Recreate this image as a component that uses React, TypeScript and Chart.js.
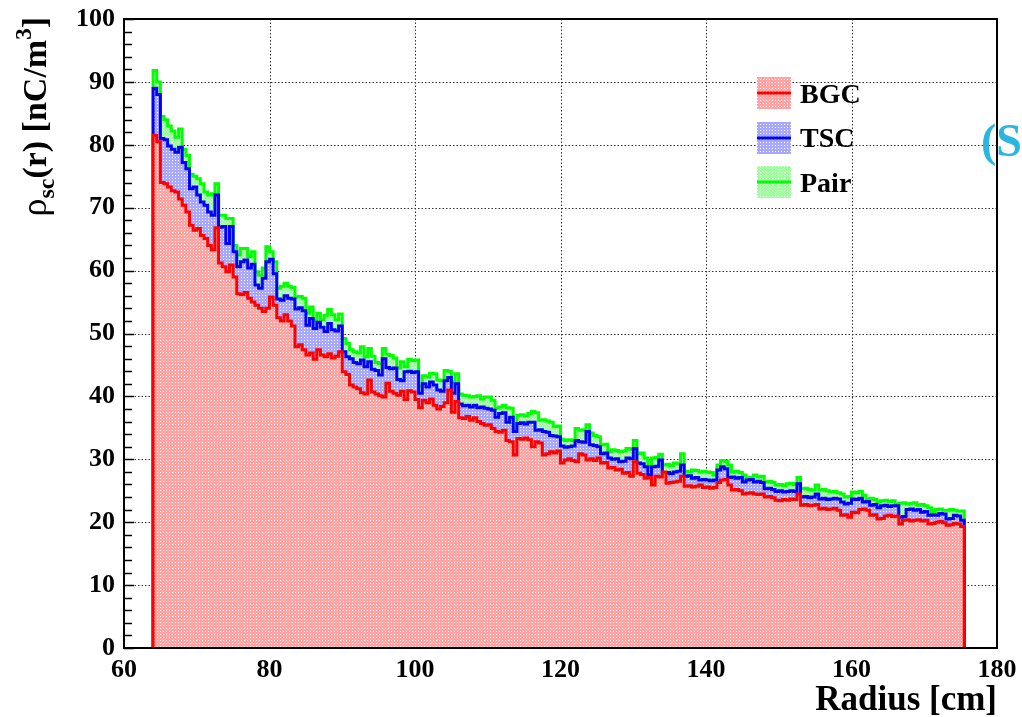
import { useEffect, useRef } from "react";
import { Chart, registerables } from "chart.js";

Chart.register(...registerables);

// Histogram binning (cm)
const binStart = 64;
const binWidth = 0.5;

// Space-charge density per radial bin [nC/m^3]
const bgcValues = [
  81.5, 80.5, 74.0, 73.8, 73.3, 72.7, 72.5, 71.4, 70.4, 69.3,
  67.2, 66.4, 66.7, 65.6, 65.1, 64.0, 63.3, 66.8, 61.2, 60.6,
  59.8, 60.9, 59.0, 56.3, 56.2, 56.5, 55.6, 55.0, 54.5, 54.0,
  53.5, 54.0, 55.8, 54.5, 52.5, 52.0, 53.0, 52.0, 51.2, 47.9,
  48.2, 47.4, 46.6, 46.9, 45.9, 47.4, 46.6, 46.3, 46.8, 46.1,
  46.4, 47.1, 43.9, 43.5, 41.8, 41.5, 41.2, 40.6, 40.4, 42.6,
  40.7, 40.4, 40.1, 39.9, 42.1, 40.8, 40.5, 40.2, 40.8, 39.5,
  40.9, 40.7, 39.5, 38.2, 39.4, 39.0, 39.6, 38.6, 38.0, 38.4,
  39.0, 41.0, 37.5, 39.2, 36.6, 36.5, 36.8, 36.2, 36.6, 36.0,
  35.7, 35.4, 35.5, 34.9, 34.4, 34.3, 34.6, 33.0, 32.8, 30.7,
  33.3, 33.2, 33.4, 33.1, 32.0, 32.8, 32.6, 30.7, 30.9, 31.2,
  31.0, 31.3, 29.4, 29.9, 30.1, 29.8, 29.6, 30.9, 30.7, 29.9,
  30.1, 29.8, 30.2, 29.4, 29.5, 28.6, 28.7, 28.3, 28.4, 27.8,
  27.9, 27.3, 29.6, 27.8, 27.6, 27.0, 27.1, 25.9, 27.3, 27.2,
  28.0, 26.2, 26.3, 26.4, 26.5, 27.3, 25.7, 25.8, 25.6, 25.7,
  25.9, 25.5, 25.6, 25.4, 25.5, 26.3, 26.7, 26.8, 25.9, 25.1,
  25.2, 25.0, 24.5, 24.6, 24.7, 24.5, 24.4, 24.5, 24.0, 24.1,
  23.9, 23.5, 23.4, 23.6, 23.5, 23.7, 23.6, 24.5, 22.7, 22.8,
  22.6, 22.7, 22.8, 22.1, 22.2, 22.0, 22.1, 22.2, 21.9, 21.1,
  21.2, 20.8, 21.6, 21.5, 22.0, 22.1, 21.9, 21.1, 21.2, 20.5,
  20.6, 21.0, 21.1, 20.9, 21.0, 19.7, 20.3, 20.4, 20.2, 20.3,
  20.4, 20.2, 20.3, 19.7, 19.8, 20.0, 20.1, 19.9, 19.5, 19.6,
  19.8, 19.7, 19.3,
];

const tscValues = [
  89.0, 88.0, 81.0, 80.8, 79.8, 79.3, 78.8, 79.6, 77.2, 76.2,
  73.0, 73.3, 72.0, 70.9, 70.4, 69.3, 68.8, 72.0, 66.9, 67.0,
  64.3, 67.0, 63.0, 60.6, 61.4, 61.7, 60.4, 61.0, 57.7, 57.2,
  58.8, 61.4, 61.8, 59.5, 55.5, 55.3, 56.0, 55.6, 55.5, 53.9,
  54.1, 53.6, 51.3, 52.4, 50.8, 51.8, 51.0, 50.3, 51.6, 50.6,
  50.4, 51.2, 47.1, 46.3, 46.0, 45.4, 45.2, 45.8, 44.7, 45.5,
  44.3, 44.1, 43.4, 46.0, 44.6, 44.4, 44.5, 42.7, 42.5, 43.9,
  44.0, 43.8, 43.9, 40.5, 42.0, 41.5, 42.3, 41.8, 41.0, 40.8,
  42.5, 43.0, 40.5, 42.0, 38.8, 38.5, 38.6, 38.3, 38.6, 38.2,
  38.3, 38.1, 38.0, 37.8, 36.7, 37.3, 37.4, 35.9, 36.7, 34.4,
  35.7, 35.8, 35.6, 35.9, 35.9, 34.6, 34.7, 34.4, 34.3, 33.8,
  33.7, 33.6, 32.1, 31.9, 32.0, 32.1, 33.0, 32.8, 32.7, 34.4,
  32.3, 32.2, 32.0, 30.9, 31.0, 30.2, 30.0, 30.1, 29.6, 29.7,
  30.2, 30.1, 31.7, 29.4, 29.3, 28.8, 27.5, 28.8, 28.9, 29.9,
  27.8, 27.9, 27.7, 28.0, 28.1, 29.1, 27.3, 27.4, 27.0, 27.1,
  26.7, 26.8, 26.7, 26.6, 26.7, 28.3, 28.8, 28.5, 27.1, 27.2,
  27.0, 27.1, 26.4, 26.7, 26.8, 26.4, 26.5, 26.3, 25.3, 25.4,
  25.2, 24.9, 25.0, 24.8, 24.9, 25.0, 24.9, 26.1, 24.0, 24.1,
  23.9, 24.0, 24.5, 23.7, 23.8, 23.6, 23.7, 23.8, 23.7, 23.2,
  22.9, 23.0, 23.7, 23.6, 23.8, 23.2, 23.3, 22.7, 22.8, 22.3,
  22.6, 22.7, 22.5, 22.6, 22.6, 20.8, 20.9, 22.0, 22.1, 21.9,
  22.0, 21.6, 21.7, 21.1, 21.2, 21.1, 21.4, 21.3, 20.5, 20.6,
  21.1, 21.0, 20.3,
];

const pairValues = [
  91.8, 90.0, 84.5, 84.0, 83.0, 82.2, 81.2, 82.5, 79.3, 78.3,
  75.3, 75.0, 74.6, 73.8, 72.5, 72.0, 72.2, 73.8, 68.8, 68.8,
  68.3, 68.3, 64.0, 62.5, 63.5, 63.5, 62.2, 63.0, 59.8, 59.3,
  60.4, 63.8, 63.0, 61.4, 57.2, 57.5, 58.0, 57.5, 57.3, 55.8,
  55.9, 55.6, 53.2, 54.2, 52.1, 53.2, 52.2, 52.9, 53.8, 53.0,
  52.2, 53.1, 49.2, 48.4, 47.4, 47.1, 46.9, 47.9, 46.3, 47.6,
  46.4, 45.4, 45.2, 47.6, 46.7, 46.5, 46.1, 44.5, 45.5, 44.7,
  45.9, 45.7, 45.8, 41.6, 43.3, 43.1, 43.7, 43.6, 42.6, 42.5,
  44.1, 44.0, 42.3, 43.6, 40.4, 40.2, 40.1, 39.9, 40.0, 40.1,
  39.6, 39.9, 39.9, 39.4, 38.1, 38.3, 38.6, 38.2, 38.1, 34.6,
  37.0, 37.1, 36.9, 37.3, 37.6, 37.4, 36.2, 36.3, 36.1, 35.9,
  35.2, 35.3, 33.2, 33.0, 33.1, 33.0, 34.9, 34.6, 34.7, 35.5,
  34.2, 33.8, 33.6, 32.3, 32.4, 31.2, 31.5, 31.4, 31.2, 31.3,
  31.7, 31.6, 33.0, 30.9, 31.0, 30.2, 28.8, 30.2, 30.3, 30.8,
  29.1, 29.2, 29.0, 29.4, 29.3, 30.9, 28.1, 28.0, 28.3, 28.2,
  28.0, 28.1, 28.0, 27.9, 27.5, 29.1, 29.8, 29.7, 29.1, 28.0,
  28.1, 27.9, 27.5, 27.0, 27.1, 27.5, 27.2, 27.3, 26.4, 26.5,
  26.3, 25.9, 26.0, 25.8, 26.1, 26.2, 26.0, 27.1, 25.3, 25.4,
  25.2, 25.1, 25.9, 25.1, 25.2, 25.0, 24.8, 24.9, 24.7, 24.5,
  24.0, 24.1, 24.8, 24.7, 24.9, 24.3, 23.7, 23.8, 23.6, 23.2,
  23.4, 23.5, 23.3, 23.4, 22.9, 23.0, 23.1, 22.9, 23.0, 23.1,
  22.7, 22.8, 22.6, 22.3, 21.6, 22.0, 22.1, 21.9, 21.9, 22.0,
  21.9, 21.8, 21.8,
];

const xTickValues = [60, 80, 100, 120, 140, 160, 180];
const yTickValues = [0, 10, 20, 30, 40, 50, 60, 70, 80, 90, 100];

const seriesNames = ["BGC", "TSC", "Pair"];
const lineColors = ["#ff0000", "#0000ff", "#00ff00"];
const dotColors = ["#ffa3a3", "#a8a8ff", "#9fff9f"];

const SERIF = "'Liberation Serif', 'Times New Roman', serif";

// Outline of a histogram: rise at the first edge, flat tops per bin, drop at the last edge
function histogramOutline(values: number[]) {
  const pts: { x: number; y: number }[] = [{ x: binStart, y: 0 }];
  values.forEach((v, i) => {
    const lo = binStart + i * binWidth;
    pts.push({ x: lo, y: v }, { x: lo + binWidth, y: v });
  });
  pts.push({ x: binStart + values.length * binWidth, y: 0 });
  return pts;
}

// Fine dotted fill, similar to a stipple hatch
function dottedPattern(color: string): CanvasPattern {
  const c = document.createElement("canvas");
  c.width = 3;
  c.height = 3;
  const g = c.getContext("2d")!;
  g.fillStyle = color;
  g.fillRect(0, 0, 3, 3);
  g.fillStyle = "#ffffff";
  g.fillRect(1, 1, 1, 1);
  return g.createPattern(c, "repeat")!;
}

export default function App() {
  const canvasRef = useRef<HTMLCanvasElement | null>(null);

  useEffect(() => {
    const canvas = canvasRef.current;
    if (!canvas) return;
    const patterns = dotColors.map(dottedPattern);
    const seriesValues = [bgcValues, tscValues, pairValues];

    const decorations = {
      id: "rootStyle",
      beforeDatasetsDraw(chart: any) {
        const { ctx, chartArea, scales } = chart;
        const xs = scales.x;
        const ys = scales.y;
        ctx.save();
        ctx.strokeStyle = "#333";
        ctx.lineWidth = 1;
        ctx.setLineDash([1.5, 2]);
        xTickValues.slice(1, -1).forEach((v) => {
          const px = Math.round(xs.getPixelForValue(v)) + 0.5;
          ctx.beginPath();
          ctx.moveTo(px, chartArea.top);
          ctx.lineTo(px, chartArea.bottom);
          ctx.stroke();
        });
        yTickValues.slice(1, -1).forEach((v) => {
          const py = Math.round(ys.getPixelForValue(v)) + 0.5;
          ctx.beginPath();
          ctx.moveTo(chartArea.left, py);
          ctx.lineTo(chartArea.right, py);
          ctx.stroke();
        });
        ctx.restore();
      },
      afterDatasetsDraw(chart: any) {
        const { ctx, chartArea, scales } = chart;
        const ys = scales.y;
        ctx.save();
        // frame
        ctx.strokeStyle = "#000";
        ctx.lineWidth = 2;
        ctx.strokeRect(
          chartArea.left,
          chartArea.top,
          chartArea.right - chartArea.left,
          chartArea.bottom - chartArea.top
        );
        // inward y ticks
        ctx.lineWidth = 1.5;
        for (let v = 0; v <= 100; v += 2) {
          const py = Math.round(ys.getPixelForValue(v)) + 0.5;
          const len = v % 10 === 0 ? 10 : 8;
          ctx.beginPath();
          ctx.moveTo(chartArea.left, py);
          ctx.lineTo(chartArea.left + len, py);
          ctx.stroke();
        }

        // legend
        const boxX = 757;
        const boxW = 34;
        const boxTops = [77, 122, 166];
        const boxH = 32;
        const textBase = [103, 147, 192];
        seriesNames.forEach((name, i) => {
          ctx.fillStyle = patterns[i];
          ctx.fillRect(boxX, boxTops[i], boxW, boxH);
          ctx.strokeStyle = lineColors[i];
          ctx.lineWidth = 3;
          ctx.beginPath();
          const my = boxTops[i] + boxH / 2;
          ctx.moveTo(boxX, my);
          ctx.lineTo(boxX + boxW, my);
          ctx.stroke();
          ctx.fillStyle = "#000";
          ctx.font = `bold 28px ${SERIF}`;
          ctx.textAlign = "left";
          ctx.textBaseline = "alphabetic";
          ctx.fillText(name, 800, textBase[i]);
        });

        // x title
        ctx.fillStyle = "#000";
        ctx.font = `bold 35px ${SERIF}`;
        ctx.textAlign = "right";
        ctx.textBaseline = "alphabetic";
        ctx.fillText("Radius [cm]", chartArea.right, 710);

        // y title with sub- and superscript
        const parts = [
          { t: "\u03c1", font: `36px ${SERIF}`, dy: 0 },
          { t: "sc", font: `bold 24px ${SERIF}`, dy: 8 },
          { t: "(r) [nC/m", font: `bold 34px ${SERIF}`, dy: 0 },
          { t: "3", font: `bold 23px ${SERIF}`, dy: -15 },
          { t: "]", font: `bold 34px ${SERIF}`, dy: 0 },
        ];
        let total = 0;
        const widths = parts.map((p) => {
          ctx.font = p.font;
          const w = ctx.measureText(p.t).width;
          total += w;
          return w;
        });
        ctx.save();
        ctx.translate(46, 17 + total);
        ctx.rotate(-Math.PI / 2);
        ctx.textAlign = "left";
        let x = 0;
        parts.forEach((p, i) => {
          ctx.font = p.font;
          ctx.fillText(p.t, x, p.dy);
          x += widths[i];
        });
        ctx.restore();

        // side caption
        ctx.fillStyle = "#2bb5e3";
        ctx.font = `bold 46px ${SERIF}`;
        ctx.textAlign = "left";
        ctx.fillText("(S", 981, 156);
        ctx.restore();
      },
    };

    const tickFont = { family: SERIF, weight: "bold" as const, size: 26 };

    const chart = new Chart(canvas, {
      type: "line",
      data: {
        datasets: seriesNames.map((name, i) => ({
          label: name,
          data: histogramOutline(seriesValues[i]),
          borderColor: lineColors[i],
          borderWidth: 3,
          backgroundColor: patterns[i],
          fill: "origin",
          pointRadius: 0,
          tension: 0,
        })),
      },
      options: {
        responsive: false,
        devicePixelRatio: 1,
        animation: false,
        events: [],
        layout: { padding: { top: 19, right: 25, left: 0, bottom: 0 } },
        plugins: {
          legend: { display: false },
          tooltip: { enabled: false },
        },
        scales: {
          x: {
            type: "linear",
            min: 60,
            max: 180,
            grid: { display: false, drawTicks: false },
            border: { display: false },
            afterBuildTicks: (s: any) => {
              s.ticks = xTickValues.map((v) => ({ value: v }));
            },
            afterFit: (s: any) => {
              s.height = 69;
              s.paddingLeft = 0;
              s.paddingRight = 0;
            },
            ticks: {
              color: "#000",
              font: tickFont,
              padding: 7,
              maxRotation: 0,
              autoSkip: false,
            },
          },
          y: {
            type: "linear",
            min: 0,
            max: 100,
            grid: { display: false, drawTicks: false },
            border: { display: false },
            afterBuildTicks: (s: any) => {
              s.ticks = yTickValues.map((v) => ({ value: v }));
            },
            afterFit: (s: any) => {
              s.width = 124;
              s.paddingTop = 0;
              s.paddingBottom = 0;
            },
            ticks: {
              color: "#000",
              font: tickFont,
              padding: 9,
              autoSkip: false,
            },
          },
        },
      },
      plugins: [decorations],
    });

    return () => chart.destroy();
  }, []);

  return (
    <div
      style={{
        position: "fixed",
        left: 0,
        top: 0,
        width: 1022,
        height: 717,
        background: "#ffffff",
      }}
    >
      <canvas
        ref={canvasRef}
        width={1022}
        height={717}
        style={{ display: "block", width: 1022, height: 717 }}
      />
    </div>
  );
}
